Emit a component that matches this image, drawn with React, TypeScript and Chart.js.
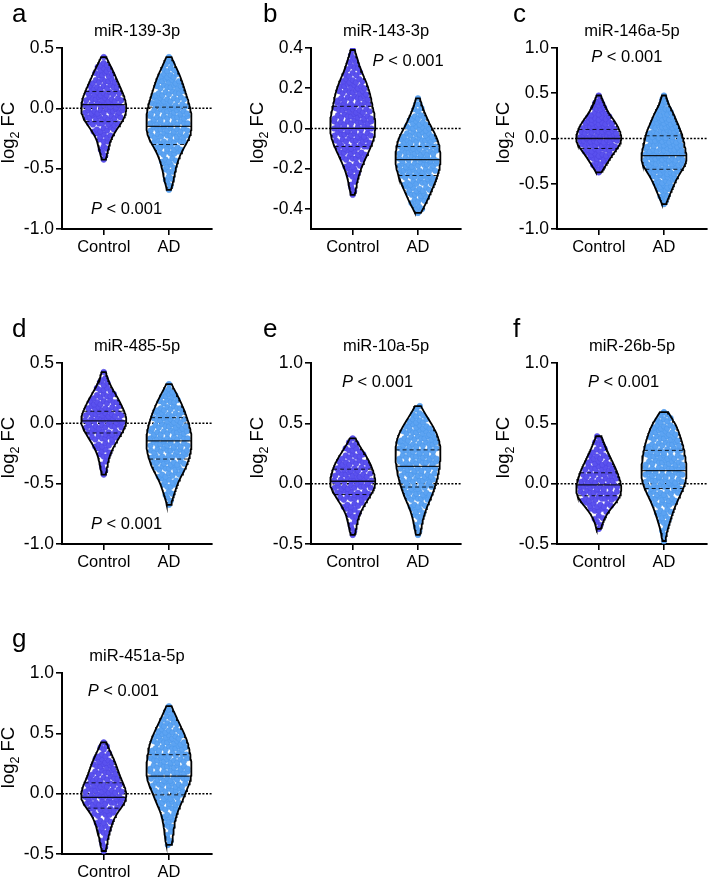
import React, { useEffect, useRef } from "react";
import { Chart, registerables } from "chart.js";

Chart.register(...registerables);

const FONT = '"Liberation Sans", Arial, Helvetica, sans-serif';

// ---------- labels ----------
const groupLabels = ["Control", "AD"];
const panelLetters = ["a", "b", "c", "d", "e", "f", "g"];
const panelTitles = ["miR-139-3p", "miR-143-3p", "miR-146a-5p", "miR-485-5p", "miR-10a-5p", "miR-26b-5p", "miR-451a-5p"];
const pValueText = ["< 0.001", "< 0.001", "< 0.001", "< 0.001", "< 0.001", "< 0.001", "< 0.001"];

// ---------- y axes ----------
const yMins = [-1.0, -0.5, -1.0, -1.0, -0.5, -0.5, -0.5];
const yMaxs = [0.5, 0.4, 1.0, 0.5, 1.0, 1.0, 1.0];
const aYTicks = [-1.0, -0.5, 0.0, 0.5];
const bYTicks = [-0.4, -0.2, 0.0, 0.2, 0.4];
const cYTicks = [-1.0, -0.5, 0.0, 0.5, 1.0];
const dYTicks = [-1.0, -0.5, 0.0, 0.5];
const eYTicks = [-0.5, 0.0, 0.5, 1.0];
const fYTicks = [-0.5, 0.0, 0.5, 1.0];
const gYTicks = [-0.5, 0.0, 0.5, 1.0];

// ---------- data: point counts per log2FC bin (bottom to top) ----------
const binWidths = [0.05, 0.03, 0.05, 0.05, 0.05, 0.05, 0.05];

const aControlStart = -0.45;
const aControlCounts = [1, 2, 3, 3, 5, 7, 10, 12, 13, 13, 12, 11, 9, 8, 6, 5, 3, 1];
const aControlQuartiles = [-0.11, 0.03, 0.14];
const aAdStart = -0.7;
const aAdCounts = [1, 2, 3, 3, 4, 5, 6, 8, 10, 12, 12, 12, 12, 12, 11, 10, 9, 8, 7, 6, 4, 3, 1];
const aAdQuartiles = [-0.3, -0.15, 0.01];

const bControlStart = -0.345;
const bControlCounts = [1, 2, 2, 3, 4, 5, 7, 8, 10, 11, 12, 12, 12, 12, 11, 10, 10, 9, 8, 7, 5, 4, 3, 2, 1];
const bControlQuartiles = [-0.09, 0.0, 0.11];
const bAdStart = -0.435;
const bAdCounts = [1, 4, 5, 7, 8, 10, 11, 12, 13, 13, 13, 12, 12, 10, 8, 6, 5, 3, 2, 1];
const bAdQuartiles = [-0.234, -0.155, -0.09];

const cControlStart = -0.4;
const cControlCounts = [1, 3, 4, 6, 7, 9, 11, 12, 12, 11, 10, 9, 7, 5, 4, 3, 2, 1];
const cControlQuartiles = [-0.11, 0.0, 0.1];
const cAdStart = -0.75;
const cAdCounts = [1, 2, 3, 4, 5, 6, 7, 9, 10, 12, 12, 12, 11, 11, 10, 10, 9, 8, 7, 6, 5, 4, 2, 2, 1];
const cAdQuartiles = [-0.34, -0.19, 0.03];

const dControlStart = -0.45;
const dControlCounts = [1, 2, 2, 3, 4, 6, 8, 10, 12, 13, 12, 10, 9, 7, 5, 3, 2, 1];
const dControlQuartiles = [-0.08, 0.02, 0.1];
const dAdStart = -0.7;
const dAdCounts = [1, 2, 3, 4, 5, 7, 9, 10, 11, 12, 12, 12, 12, 11, 10, 9, 8, 6, 5, 3, 1];
const dAdQuartiles = [-0.296, -0.146, 0.047];

const eControlStart = -0.45;
const eControlCounts = [1, 2, 2, 3, 4, 6, 8, 10, 12, 12, 11, 10, 9, 7, 5, 3, 1];
const eControlQuartiles = [-0.09, 0.02, 0.12];
const eAdStart = -0.45;
const eAdCounts = [1, 2, 2, 3, 4, 5, 7, 8, 9, 10, 11, 11, 12, 12, 12, 12, 11, 10, 8, 6, 4, 2];
const eAdQuartiles = [-0.028, 0.144, 0.28];

const fControlStart = -0.4;
const fControlCounts = [1, 2, 3, 5, 8, 11, 12, 12, 11, 10, 9, 7, 6, 4, 3, 2];
const fControlQuartiles = [-0.1, -0.01, 0.09];
const fAdStart = -0.5;
const fAdCounts = [1, 1, 2, 3, 4, 5, 6, 8, 9, 11, 12, 12, 12, 12, 11, 11, 10, 9, 8, 7, 5, 3];
const fAdQuartiles = [-0.04, 0.108, 0.276];

const gControlStart = -0.5;
const gControlCounts = [1, 2, 2, 3, 4, 5, 6, 9, 12, 13, 12, 11, 9, 8, 7, 6, 4, 3, 1];
const gControlQuartiles = [-0.12, -0.03, 0.09];
const gAdStart = -0.45;
const gAdCounts = [2, 2, 2, 3, 3, 4, 5, 7, 8, 9, 11, 12, 12, 12, 12, 11, 11, 10, 9, 7, 6, 4, 3, 1];
const gAdQuartiles = [-0.01, 0.146, 0.323];

// ---------- assembly (built from the arrays above) ----------
const yTickSets = [aYTicks, bYTicks, cYTicks, dYTicks, eYTicks, fYTicks, gYTicks];
const controlStarts = [aControlStart, bControlStart, cControlStart, dControlStart, eControlStart, fControlStart, gControlStart];
const controlCounts = [aControlCounts, bControlCounts, cControlCounts, dControlCounts, eControlCounts, fControlCounts, gControlCounts];
const controlQuartiles = [aControlQuartiles, bControlQuartiles, cControlQuartiles, dControlQuartiles, eControlQuartiles, fControlQuartiles, gControlQuartiles];
const adStarts = [aAdStart, bAdStart, cAdStart, dAdStart, eAdStart, fAdStart, gAdStart];
const adCounts = [aAdCounts, bAdCounts, cAdCounts, dAdCounts, eAdCounts, fAdCounts, gAdCounts];
const adQuartiles = [aAdQuartiles, bAdQuartiles, cAdQuartiles, dAdQuartiles, eAdQuartiles, fAdQuartiles, gAdQuartiles];

// ---------- layout / style ----------
const COL_AXIS_X = [62, 311, 557];
const ROW_PLOT_TOP = [48, 363, 673];
const LETTER_DX = [-50, -48, -44];
const P_POS = [
  [0.35, -0.84],
  [0.85, 0.335],
  [0.43, 0.895],
  [0.35, -0.84],
  [0.38, 0.84],
  [0.38, 0.84],
  [0.3, 0.85],
];
const CANVAS_W = 222;
const CANVAS_H = 279;
const Y_AXIS_W = 62;
const X_AXIS_H = 50;
const PAD_TOP = 48;
const PAD_RIGHT = 10;
const X_MIN = -0.64;
const X_MAX = 1.66;
const HALF_WIDTH = 0.345;
// beeswarm-like layout: sub-row levels within a bin, visited in a fixed order
const LEVELS = [-0.36, -0.18, 0, 0.18, 0.36];
const LEVEL_ORDER = [2, 4, 1, 3, 0, 2, 0, 3, 1, 4, 2];
const COLORS = ["#5A51EE", "#5CA3F2"];
const EDGE_COLORS = ["#4C43E0", "#4B96E8"];

type Pt = { x: number; y: number };

function buildGroup(center: number, start: number, bin: number, counts: number[], quart: number[]) {
  const h = bin * 1.1;
  const centers = counts.map((_, j) => start + (j + 0.5) * bin);
  const dens = (y: number) =>
    counts.reduce((s, c, j) => {
      const u = (y - centers[j]) / h;
      return s + c * Math.exp(-0.5 * u * u);
    }, 0);
  const top = start + counts.length * bin;
  let fmax = 0;
  for (let k = 0; k <= 300; k++) fmax = Math.max(fmax, dens(start + ((top - start) * k) / 300));
  const hw = (y: number) => (HALF_WIDTH * dens(y)) / fmax;

  const dots: Pt[] = [];
  counts.forEach((n, j) => {
    const w = hw(centers[j]) * 0.9;
    for (let i = 0; i < n; i++) {
      const lvl = n > 1 ? LEVELS[LEVEL_ORDER[(i + 3 * j) % LEVEL_ORDER.length]] : 0;
      dots.push({
        x: center + (n > 1 ? (-1 + (2 * i + 1) / n) * w : 0),
        y: centers[j] + lvl * bin,
      });
    }
  });
  const ys = dots.map((p) => p.y);
  const ymin = Math.min(...ys);
  const ymax = Math.max(...ys);
  const right: Pt[] = [];
  const N = 80;
  for (let k = 0; k <= N; k++) {
    const y = ymin + ((ymax - ymin) * k) / N;
    right.push({ x: center + hw(y), y });
  }
  const left = right
    .slice()
    .reverse()
    .map((p) => ({ x: 2 * center - p.x, y: p.y }));
  const outline: Pt[] = [{ x: center, y: ymin }, ...right, { x: center, y: ymax }, ...left, { x: center, y: ymin }];
  const qLines = quart.map((q) => [
    { x: center - hw(q), y: q },
    { x: center + hw(q), y: q },
  ]);
  return { dots, outline, qLines };
}

const textPlugin = {
  id: "panelText",
  afterDraw(chart: any, _args: any, opts: any) {
    const { ctx, chartArea, scales } = chart;
    ctx.save();
    ctx.fillStyle = "#000";
    // panel letter
    ctx.font = `26px ${FONT}`;
    ctx.textAlign = "left";
    ctx.textBaseline = "alphabetic";
    ctx.fillText(opts.letter, chartArea.left + opts.letterDx, chartArea.top - 26.5);
    // title
    ctx.font = `16.5px ${FONT}`;
    ctx.textAlign = "center";
    ctx.fillText(opts.title, (chartArea.left + chartArea.right) / 2, chartArea.top - 12);
    // y label: log2 FC
    ctx.save();
    ctx.translate(chartArea.left - 48, (chartArea.top + chartArea.bottom) / 2 - 6);
    ctx.rotate(-Math.PI / 2);
    ctx.textAlign = "left";
    ctx.font = `18.5px ${FONT}`;
    const w1 = ctx.measureText("log").width;
    const w3 = ctx.measureText(" FC").width;
    ctx.font = `12.5px ${FONT}`;
    const w2 = ctx.measureText("2").width;
    const x0 = -(w1 + w2 + w3) / 2;
    ctx.font = `18.5px ${FONT}`;
    ctx.fillText("log", x0, 0);
    ctx.fillText(" FC", x0 + w1 + w2, 0);
    ctx.font = `12.5px ${FONT}`;
    ctx.fillText("2", x0 + w1, 5);
    ctx.restore();
    // P value
    const px = scales.x.getPixelForValue(opts.pX);
    const py = scales.y.getPixelForValue(opts.pY);
    ctx.textBaseline = "middle";
    ctx.textAlign = "left";
    ctx.font = `italic 16.5px ${FONT}`;
    const wp = ctx.measureText("P").width;
    ctx.font = `16.5px ${FONT}`;
    const rest = " " + opts.pText;
    const wr = ctx.measureText(rest).width;
    const sx = px - (wp + wr) / 2;
    ctx.font = `italic 16.5px ${FONT}`;
    ctx.fillText("P", sx, py);
    ctx.font = `16.5px ${FONT}`;
    ctx.fillText(rest, sx + wp, py);
    ctx.restore();
  },
};

function buildConfig(idx: number): any {
  const bin = binWidths[idx];
  const groups = [
    buildGroup(0, controlStarts[idx], bin, controlCounts[idx], controlQuartiles[idx]),
    buildGroup(1, adStarts[idx], bin, adCounts[idx], adQuartiles[idx]),
  ];
  const datasets: any[] = [];
  datasets.push({
    data: [
      { x: X_MIN, y: 0 },
      { x: X_MAX, y: 0 },
    ],
    showLine: true,
    borderColor: "#000",
    borderWidth: 1.5,
    borderDash: [2, 1.6],
    pointRadius: 0,
    order: 4,
  });
  groups.forEach((g, gi) => {
    datasets.push({
      data: g.dots,
      showLine: false,
      pointRadius: 2.8,
      pointBackgroundColor: COLORS[gi],
      pointBorderColor: EDGE_COLORS[gi],
      pointBorderWidth: 0.5,
      order: 3,
    });
    datasets.push({
      data: g.outline,
      showLine: true,
      borderColor: "#000",
      borderWidth: 1.8,
      pointRadius: 0,
      tension: 0,
      fill: false,
      order: 2,
    });
    g.qLines.forEach((line, qi) => {
      datasets.push({
        data: line,
        showLine: true,
        borderColor: "rgba(0,0,0,0.85)",
        borderWidth: qi === 1 ? 1.3 : 1.0,
        borderDash: qi === 1 ? [] : [4, 3],
        pointRadius: 0,
        order: 1,
      });
    });
  });
  const yTicks = yTickSets[idx];
  return {
    type: "scatter",
    data: { datasets },
    plugins: [textPlugin],
    options: {
      responsive: false,
      animation: false,
      devicePixelRatio: 1,
      events: [],
      layout: { padding: { left: 0, top: PAD_TOP, right: PAD_RIGHT, bottom: 0 } },
      plugins: {
        legend: { display: false },
        tooltip: { enabled: false },
        title: { display: false },
        panelText: {
          letter: panelLetters[idx],
          letterDx: LETTER_DX[idx % 3],
          title: panelTitles[idx],
          pX: P_POS[idx][0],
          pY: P_POS[idx][1],
          pText: pValueText[idx],
        },
      },
      scales: {
        x: {
          type: "linear",
          min: X_MIN,
          max: X_MAX,
          afterBuildTicks: (s: any) => {
            s.ticks = groupLabels.map((_, i) => ({ value: i }));
          },
          afterFit: (s: any) => {
            s.height = X_AXIS_H;
          },
          ticks: {
            autoSkip: false,
            maxRotation: 0,
            color: "#000",
            padding: 3,
            font: { family: FONT, size: 16.5 },
            callback: (v: any) => groupLabels[Math.round(v)] ?? "",
          },
          grid: { drawOnChartArea: false, drawTicks: true, tickLength: 6, color: "#000", lineWidth: 1.6 },
          border: { display: true, color: "#000", width: 2 },
        },
        y: {
          type: "linear",
          min: yMins[idx],
          max: yMaxs[idx],
          afterBuildTicks: (s: any) => {
            s.ticks = yTicks.map((v) => ({ value: v }));
          },
          afterFit: (s: any) => {
            s.width = Y_AXIS_W;
          },
          ticks: {
            color: "#000",
            padding: 2,
            font: { family: FONT, size: 17.5 },
            callback: (v: any) => Number(v).toFixed(1),
          },
          grid: { drawOnChartArea: false, drawTicks: true, tickLength: 6, color: "#000", lineWidth: 1.6 },
          border: { display: true, color: "#000", width: 2 },
        },
      },
    },
  };
}

function Panel({ idx }: { idx: number }) {
  const ref = useRef<HTMLCanvasElement>(null);
  useEffect(() => {
    const chart = new Chart(ref.current as HTMLCanvasElement, buildConfig(idx));
    return () => chart.destroy();
  }, [idx]);
  const left = COL_AXIS_X[idx % 3] - Y_AXIS_W;
  const top = ROW_PLOT_TOP[Math.floor(idx / 3)] - PAD_TOP;
  return (
    <canvas
      ref={ref}
      width={CANVAS_W}
      height={CANVAS_H}
      style={{ position: "absolute", left, top, width: CANVAS_W, height: CANVAS_H }}
    />
  );
}

export default function App() {
  return (
    <div
      style={{
        position: "absolute",
        left: 0,
        top: 0,
        width: 709,
        height: 880,
        overflow: "hidden",
        background: "#fff",
      }}
    >
      {panelLetters.map((_, i) => (
        <Panel key={i} idx={i} />
      ))}
    </div>
  );
}
